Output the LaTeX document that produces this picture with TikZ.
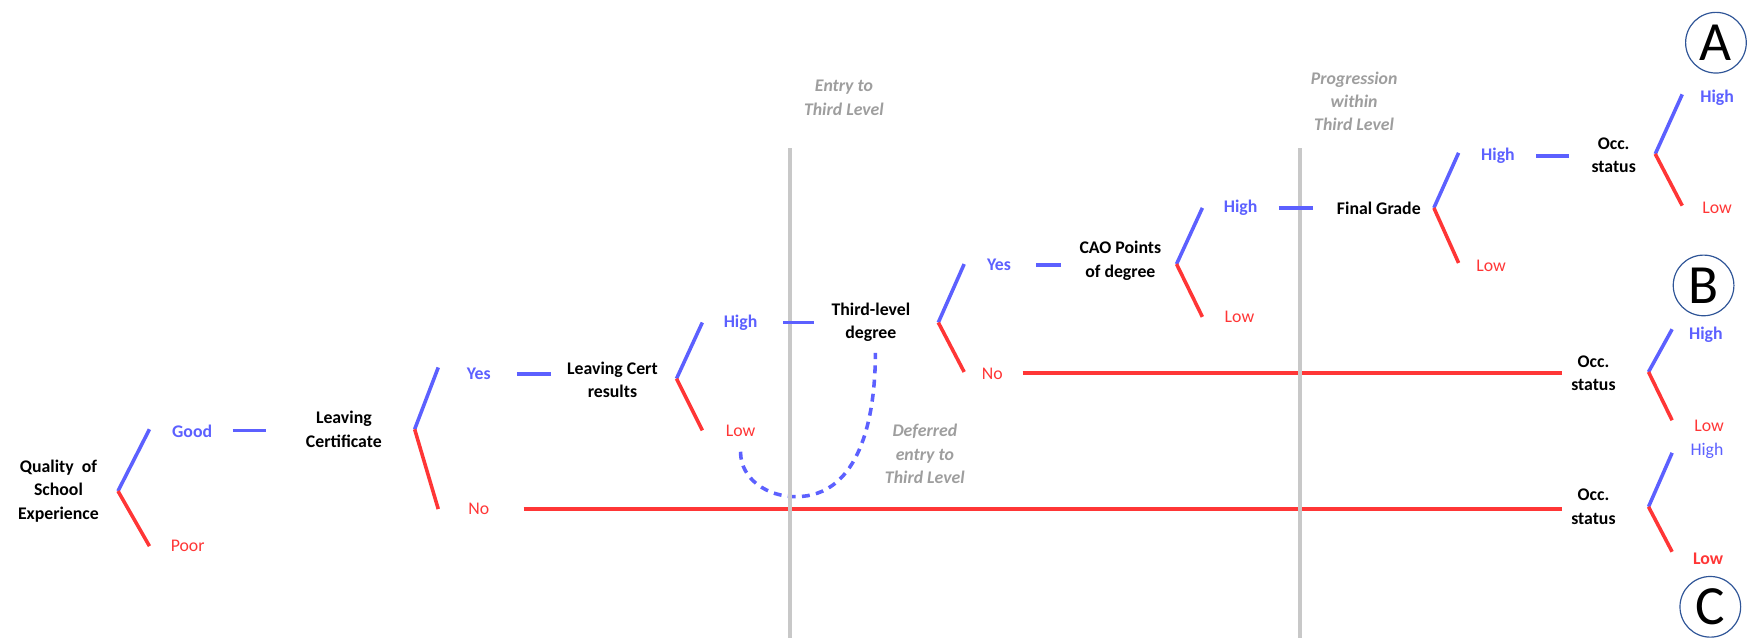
\documentclass[tikz,border=0pt]{standalone}
\usepackage{fontspec}
\setmainfont{Carlito}
\usepackage{xcolor}
\usepackage{tikz}
\usetikzlibrary{positioning}
\definecolor{fblue}{RGB}{92,96,255}
\definecolor{fred}{RGB}{255,54,54}
\definecolor{fgray}{RGB}{158,158,158}
\definecolor{divgray}{RGB}{200,200,200}
\definecolor{circblue}{RGB}{47,85,151}
\tikzset{
	blueline/.style={line width=1.8pt,fblue},
	redline/.style={line width=1.8pt,fred},
	divider/.style={line width=1.8pt,divgray},
	deferline/.style={line width=1.8pt,fblue,dash pattern=on 4pt off 3.2pt},
	lbl/.style={font=\fontsize{9}{11.8}\selectfont\bfseries,align=center,text=black},
	bluelbl/.style={font=\fontsize{9}{11.8}\selectfont\bfseries,text=fblue},
	redlbl/.style={font=\fontsize{9}{11.8}\selectfont,text=fred},
	stage/.style={font=\fontsize{9}{11.8}\selectfont\bfseries\itshape,text=fgray,align=center},
	marker/.style={circle,draw=circblue,line width=0.6pt,minimum size=1.08cm,inner sep=0pt,font=\fontsize{28}{30}\selectfont}
}
\begin{document}
\begin{tikzpicture}[x=0.02cm,y=-0.02cm]
	\useasboundingbox (0,0) rectangle (1568,568);
	\node[lbl] (qse) at (52,437) {Quality\ \ of\\School\\Experience};
	\node[bluelbl] (good) at (171,384) {Good};
	\node[redlbl] (poor) at (167,486) {Poor};
	\node[lbl] (lc) at (306,382) {Leaving\\Certificate};
	\node[bluelbl] (yes1) at (426,333) {Yes};
	\node[redlbl] (no1) at (426,453) {No};
	\node[lbl] (lcr) at (545,338) {Leaving Cert\\results};
	\node[bluelbl] (high1) at (659,287) {High};
	\node[redlbl] (low1) at (659,383) {Low};
	\node[lbl] (tld) at (775,287) {Third-level\\degree};
	\node[bluelbl] (yes2) at (889,236) {Yes};
	\node[redlbl] (no2) at (883,333) {No};
	\node[lbl] (cao) at (997,232) {CAO Points\\of degree};
	\node[bluelbl] (high2) at (1104,185) {High};
	\node[redlbl] (low2) at (1103,282) {Low};
	\node[lbl] (fg) at (1227,185) {Final Grade};
	\node[bluelbl] (high3) at (1333,139) {High};
	\node[redlbl] (low3) at (1327,237) {Low};
	\node[lbl] (occa) at (1436,138) {Occ.\\status};
	\node[bluelbl] (higha) at (1528,87) {High};
	\node[redlbl] (lowa) at (1528,185) {Low};
	\node[lbl] (occb) at (1418,332) {Occ.\\status};
	\node[bluelbl] (highb) at (1518,298) {High};
	\node[redlbl] (lowb) at (1521,379) {Low};
	\node[lbl] (occc) at (1418,451) {Occ.\\status};
	\node[bluelbl,font=\fontsize{9}{11.8}\selectfont] (highc) at (1519,401) {High};
	\node[redlbl,font=\fontsize{9}{11.8}\selectfont\bfseries] (lowc) at (1520,497) {Low};
	\node[stage] (entry) at (751,87) {Entry to\\Third Level};
	\node[stage] (prog) at (1205,90) {Progression\\within\\Third Level};
	\node[stage] (defer) at (823,404) {Deferred\\entry to\\Third Level};
	\node[marker] (mka) at (1527,38) {A};
	\node[marker] (mkb) at (1516,254) {B};
	\node[marker] (mkc) at (1522,540) {C};
	% forks
	\coordinate (f1) at (105,437); \coordinate (f1t) at (133,382); \coordinate (f1b) at (133,486);
	\coordinate (f2) at (369,382); \coordinate (f2t) at (390,327); \coordinate (f2b) at (390,453);
	\coordinate (f3) at (602,337); \coordinate (f3t) at (625,287); \coordinate (f3b) at (625,383);
	\coordinate (f4) at (835,287); \coordinate (f4t) at (858,235); \coordinate (f4b) at (858,331);
	\coordinate (f5) at (1047,235); \coordinate (f5t) at (1070,185); \coordinate (f5b) at (1070,282);
	\coordinate (f6) at (1276,185); \coordinate (f6t) at (1298,136); \coordinate (f6b) at (1298,234);
	\coordinate (fa) at (1473,137); \coordinate (fat) at (1497,84); \coordinate (fab) at (1497,183);
	\coordinate (fb) at (1467,331); \coordinate (fbt) at (1488,293); \coordinate (fbb) at (1488,374);
	\coordinate (fc) at (1467,451); \coordinate (fct) at (1488,403); \coordinate (fcb) at (1488,491);
	\foreach \f in {f1,f2,f3,f4,f5,f6,fa,fb,fc}{
		\draw[blueline] (\f) -- (\f t);
		\draw[redline] (\f) -- (\f b);
	}
	% links
	\coordinate (g1) at (207,383); \coordinate (g2) at (237,383);
	\coordinate (y1) at (460,333); \coordinate (y2) at (490,333);
	\coordinate (h1) at (697,287); \coordinate (h2) at (724,287);
	\coordinate (y3) at (922,236); \coordinate (y4) at (944,236);
	\coordinate (h3) at (1138,185); \coordinate (h4) at (1168,185);
	\coordinate (h5) at (1367,139); \coordinate (h6) at (1396,139);
	\draw[blueline] (g1) -- (g2);
	\draw[blueline] (y1) -- (y2);
	\draw[blueline] (y3) -- (y4);
	\draw[blueline] (h5) -- (h6);
	\coordinate (n1) at (466,453); \coordinate (n2) at (1390,453);
	\coordinate (n3) at (910,332); \coordinate (n4) at (1390,332);
	\draw[redline] (n1) -- (n2);
	\draw[redline] (n3) -- (n4);
	\coordinate (c1) at (659,402); \coordinate (c2) at (708,442); \coordinate (c3) at (779,314);
	\draw[deferline] (c1) to[out=-90,in=180] (c2) to[out=0,in=-90] (c3);
	\coordinate (e1) at (703,132); \coordinate (e2) at (703,568);
	\coordinate (e3) at (1157,132); \coordinate (e4) at (1157,568);
	\draw[divider] (e1) -- (e2);
	\draw[divider] (e3) -- (e4);
	\draw[blueline] (h1) -- (h2);
	\draw[blueline] (h3) -- (h4);
\end{tikzpicture}
\end{document}
